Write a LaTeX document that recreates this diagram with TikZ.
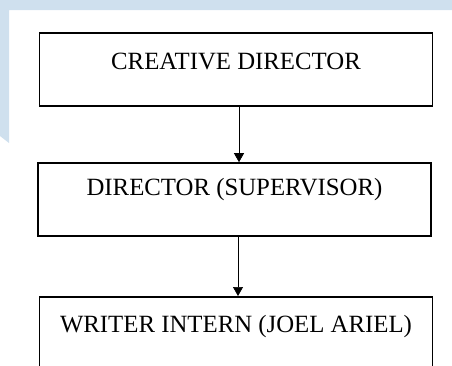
\documentclass[tikz,border=0pt]{standalone}
\usepackage{fontspec}
\setmainfont{Liberation Serif}
\usetikzlibrary{arrows.meta}
\definecolor{paneblue}{RGB}{207,224,238}

\begin{document}
\begin{tikzpicture}[x=1pt, y=-1pt, line width=0.7pt,
    rolebox/.style={draw, line width=1.6pt, inner sep=0pt, minimum width=393pt,
      text height=36pt, text depth=37pt, font=\fontsize{24.8}{28}\selectfont},
    link/.style={-{Triangle[width=10pt,length=9pt]}}]
  \useasboundingbox (0,0) rectangle (452,365);
  \clip (0,0) rectangle (452,365);
  \fill[paneblue] (0,0) -- (452,0) -- (452,10) -- (9,10) -- (9,143) -- (0,136) -- cycle;
  \node[rolebox] (creative) at (236,69.5) {CREATIVE DIRECTOR};
  \node[rolebox, text height=32pt, text depth=41pt] (director) at (234.5,199.5) {DIRECTOR (SUPERVISOR)};
  \node[rolebox, anchor=north] (intern) at (236,296) {WRITER INTERN (JOEL ARIEL)};
  \draw[link] ([xshift=3pt]creative.south) -- ([xshift=3pt]creative.south |- director.north);
  \draw[link] ([xshift=3.5pt]director.south) -- ([xshift=3.5pt]director.south |- intern.north);
\end{tikzpicture}
\end{document}
